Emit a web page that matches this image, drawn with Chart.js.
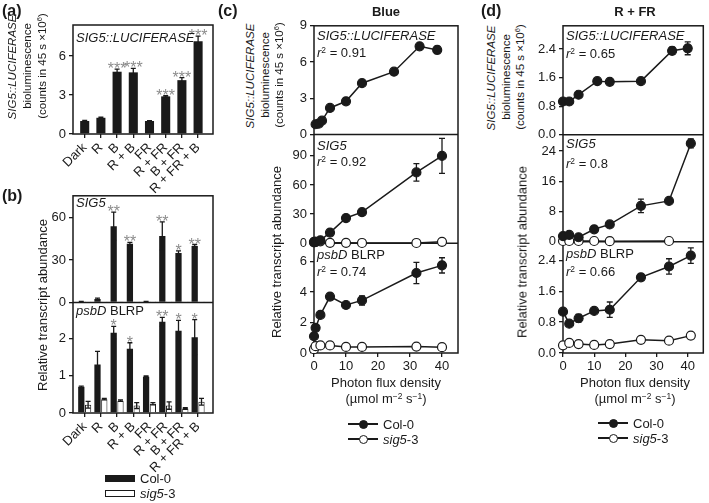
<!DOCTYPE html>
<html>
<head>
<meta charset="utf-8">
<script src="https://cdn.jsdelivr.net/npm/chart.js@4.4.1/dist/chart.umd.min.js"></script>
<style>
  body { margin: 0; width: 709px; height: 503px; position: relative; overflow: hidden; background: #fff;
         font-family: 'Liberation Sans', Arial, sans-serif; color: #1a1a1a; }
  canvas { position: absolute; }
  .t { position: absolute; white-space: nowrap; font-size: 13px; line-height: 13px; }
  .b { font-weight: bold; }
  .yt { font-size: 11.5px; line-height: 12px; }
  .rot { transform: translate(-50%, -50%) rotate(-90deg); }
  .ctr { transform: translateX(-50%); }
  sup { font-size: 0.65em; line-height: 0; vertical-align: 0.5em; }
  .sw { position: absolute; box-sizing: border-box; }
</style>
</head>
<body>
<canvas id="ca" width="220" height="200" style="left:0;top:0"></canvas>
<canvas id="cb" width="220" height="300" style="left:0;top:185px"></canvas>
<canvas id="cc" width="187" height="380" style="left:278px;top:15px"></canvas>
<canvas id="cd" width="182" height="380" style="left:527px;top:15px"></canvas>

<!-- panel letters and headings -->
<div class="t b" style="left:2px;top:3px;font-size:16px;line-height:16px">(a)</div>
<div class="t b" style="left:2px;top:188px;font-size:16px;line-height:16px">(b)</div>
<div class="t b" style="left:218px;top:3px;font-size:16px;line-height:16px">(c)</div>
<div class="t b" style="left:481px;top:3px;font-size:16px;line-height:16px">(d)</div>
<div class="t b ctr" style="left:386px;top:5px">Blue</div>
<div class="t b ctr" style="left:635px;top:5px">R + FR</div>

<!-- axis titles -->
<div class="t yt rot" style="left:12px;top:67px"><i>SIG5::LUCIFERASE</i></div>
<div class="t yt rot" style="left:27px;top:66px">bioluminescence</div>
<div class="t yt rot" style="left:42px;top:66px">(counts in 45 s ×10<sup>6</sup>)</div>
<div class="t rot" style="left:42px;top:305px">Relative transcript abundance</div>

<div class="t yt rot" style="left:250px;top:76px"><i>SIG5::LUCIFERASE</i></div>
<div class="t yt rot" style="left:265px;top:75px">bioluminescence</div>
<div class="t yt rot" style="left:279px;top:75px">(counts in 45 s ×10<sup>6</sup>)</div>
<div class="t rot" style="left:276px;top:252px">Relative transcript abundance</div>

<div class="t yt rot" style="left:491px;top:78px"><i>SIG5::LUCIFERASE</i></div>
<div class="t yt rot" style="left:506px;top:77px">bioluminescence</div>
<div class="t yt rot" style="left:520px;top:77px">(counts in 45 s ×10<sup>6</sup>)</div>
<div class="t rot" style="left:522px;top:252px">Relative transcript abundance</div>

<div class="t ctr" style="left:386px;top:376px">Photon flux density</div>
<div class="t ctr" style="left:386px;top:392px">(µmol m<sup>−2</sup> s<sup>−1</sup>)</div>
<div class="t ctr" style="left:635px;top:376px">Photon flux density</div>
<div class="t ctr" style="left:635px;top:392px">(µmol m<sup>−2</sup> s<sup>−1</sup>)</div>

<!-- labels inside the plots -->
<div class="t" style="left:76px;top:31px"><i>SIG5::LUCIFERASE</i></div>
<div class="t" style="left:76px;top:196px"><i>SIG5</i></div>
<div class="t" style="left:76px;top:304px"><i>psbD</i> BLRP</div>

<div class="t" style="left:317px;top:29px"><i>SIG5::LUCIFERASE</i></div>
<div class="t" style="left:317px;top:46px"><i>r</i><sup>2</sup> = 0.91</div>
<div class="t" style="left:317px;top:139px"><i>SIG5</i></div>
<div class="t" style="left:317px;top:155px"><i>r</i><sup>2</sup> = 0.92</div>
<div class="t" style="left:317px;top:248px"><i>psbD</i> BLRP</div>
<div class="t" style="left:317px;top:265px"><i>r</i><sup>2</sup> = 0.74</div>

<div class="t" style="left:566px;top:29px"><i>SIG5::LUCIFERASE</i></div>
<div class="t" style="left:566px;top:47px"><i>r</i><sup>2</sup> = 0.65</div>
<div class="t" style="left:566px;top:137px"><i>SIG5</i></div>
<div class="t" style="left:566px;top:157px"><i>r</i><sup>2</sup> = 0.8</div>
<div class="t" style="left:566px;top:247px"><i>psbD</i> BLRP</div>
<div class="t" style="left:566px;top:265px"><i>r</i><sup>2</sup> = 0.66</div>

<!-- legends -->
<div class="sw" style="left:105px;top:475px;width:30px;height:7px;background:#1a1a1a"></div>
<div class="t" style="left:140px;top:472px">Col-0</div>
<div class="sw" style="left:105px;top:490px;width:30px;height:7px;border:1px solid #1a1a1a;background:#fff"></div>
<div class="t" style="left:140px;top:487px"><i>sig5</i>-3</div>
<div id="legends"></div>

<script>
// light treatments, panels (a) and (b)
const lightCats = ['Dark', 'R', 'B', 'R + B', 'FR', 'R + FR', 'B + FR', 'R + FR + B'];

const lucBars = [1.0, 1.25, 4.8, 4.75, 1.0, 2.9, 4.15, 7.15];
const lucBarsErr = [0.05, 0.05, 0.2, 0.3, 0.03, 0.06, 0.2, 0.4];
const lucBarsStars = ['', '', '***', '***', '', '***', '***', '***'];
const lucBarTicks = [0, 3, 6];

const sig5BarsCol = [0.5, 2.5, 54, 41.5, 0.5, 47, 35, 40];
const sig5BarsColErr = [0.2, 0.5, 10, 1, 0.2, 10, 1.5, 1];
const sig5BarsMut = [0.2, 0.2, 0.3, 0.2, 0.2, 0.2, 0.2, 0.2];
const sig5BarsStars = ['', '', '**', '**', '', '**', '*', '**'];
const sig5BarTicks = [0, 30, 60];

const psbdBarsCol = [0.7, 1.3, 2.15, 1.72, 0.97, 2.44, 2.2, 2.03];
const psbdBarsColErr = [0.02, 0.35, 0.17, 0.16, 0.02, 0.12, 0.28, 0.47];
const psbdBarsMut = [0.22, 0.37, 0.33, 0.2, 0.25, 0.2, 0.12, 0.3];
const psbdBarsMutErr = [0.09, 0.02, 0.02, 0.08, 0.03, 0.1, 0.02, 0.09];
const psbdBarsStars = ['', '', '*', '*', '', '**', '*', '*'];
const psbdBarTicks = [0, 1, 2];

// photon flux series, panel (c) blue light
const blueLucX = [0.5, 1.5, 2.5, 5, 10, 15, 25, 33, 38.5];
const blueLuc = [0.85, 0.9, 1.15, 2.2, 2.75, 4.25, 5.2, 7.3, 7.0];
const blueLucErr = [0.05, 0.05, 0.05, 0.1, 0.1, 0.1, 0.1, 0.15, 0.3];
const blueX = [0, 0.5, 2, 5, 10, 15, 32, 40];
const blueSig5Col = [1, 1.5, 3, 11, 26, 32, 73, 90];
const blueSig5ColErr = [0.3, 0.3, 0.5, 1, 2, 1.5, 9, 18];
const blueSig5Mut = [1.5, 1.5, 2, 0.5, 0.5, 0.3, 0.3, 1.5];
const bluePsbdCol = [1.1, 1.65, 2.5, 3.7, 3.15, 3.45, 5.25, 5.75];
const bluePsbdColErr = [0.1, 0.15, 0.1, 0.15, 0.15, 0.3, 0.7, 0.5];
const bluePsbdMut = [0.25, 0.45, 0.5, 0.5, 0.4, 0.4, 0.42, 0.38];

// photon flux series, panel (d) red + far red
const rfrLucX = [0, 2, 5, 11, 15, 25, 35, 40];
const rfrLuc = [0.93, 0.93, 1.12, 1.5, 1.48, 1.5, 2.35, 2.42];
const rfrLucErr = [0.03, 0.03, 0.05, 0.04, 0.03, 0.04, 0.1, 0.18];
const rfrX = [0, 2, 5, 10, 15, 25, 34, 41];
const rfrSig5Col = [1.5, 1.8, 1.2, 3.3, 4.6, 9.5, 10.8, 26];
const rfrSig5ColErr = [0.3, 0.5, 0.3, 0.4, 0.4, 1.8, 0.7, 1.2];
const rfrSig5Mut = [0.2, 0.2, 0.2, 0.2, 0.15, null, 0.2, null];
const rfrPsbdCol = [1.07, 0.76, 0.9, 1.09, 1.12, 1.96, 2.24, 2.52];
const rfrPsbdColErr = [0.03, 0.05, 0.1, 0.04, 0.2, 0.07, 0.2, 0.2];
const rfrPsbdMut = [0.2, 0.26, 0.23, 0.21, 0.23, 0.34, 0.32, 0.45];

const fluxTicks = [0, 10, 20, 30, 40];
const blueLucTicks = [0, 3, 6, 9];
const blueSig5Ticks = [0, 30, 60, 90];
const bluePsbdTicks = [0, 2, 4, 6];
const rfrLucTicks = [0, 0.8, 1.6, 2.4];
const rfrSig5Ticks = [0, 8, 16, 24];
const rfrPsbdTicks = [0, 0.8, 1.6, 2.4];

const ink = '#1a1a1a';

Chart.defaults.font.family = "'Liberation Sans', Arial, sans-serif";
Chart.defaults.font.size = 13;
Chart.defaults.color = ink;
Chart.defaults.animation = false;
Chart.defaults.plugins.legend.display = false;
Chart.defaults.plugins.tooltip.enabled = false;

// box around the plot area plus the rule between stacked rows
const framePlugin = {
  id: 'frame',
  beforeDatasetsDraw(chart) {
    const { ctx, chartArea: a } = chart;
    ctx.save();
    ctx.strokeStyle = ink;
    ctx.lineWidth = 1.5;
    ctx.strokeRect(a.left, a.top, a.right - a.left, a.bottom - a.top);
    Object.values(chart.scales).forEach(s => {
      if (s.axis === 'y' && s.top > a.top + 1) {
        ctx.beginPath();
        ctx.moveTo(a.left, s.top);
        ctx.lineTo(a.right, s.top);
        ctx.stroke();
      }
    });
    ctx.restore();
  }
};

function drawErrors(chart) {
  const ctx = chart.ctx;
  ctx.save();
  ctx.strokeStyle = ink;
  ctx.lineWidth = 1.3;
  chart.data.datasets.forEach((ds, i) => {
    if (!ds.errors) return;
    const meta = chart.getDatasetMeta(i);
    const ys = chart.scales[meta.yAxisID];
    const cap = chart.config.type === 'bar' ? 2.5 : 3;
    meta.data.forEach((el, j) => {
      const v = ds.data[j].y, e = ds.errors[j];
      if (v == null || !e) return;
      const hi = ys.getPixelForValue(v + e), lo = ys.getPixelForValue(v - e);
      ctx.beginPath();
      ctx.moveTo(el.x, lo); ctx.lineTo(el.x, hi);
      ctx.moveTo(el.x - cap, hi); ctx.lineTo(el.x + cap, hi);
      ctx.moveTo(el.x - cap, lo); ctx.lineTo(el.x + cap, lo);
      ctx.stroke();
    });
  });
  ctx.restore();
}

function drawStars(chart) {
  const ctx = chart.ctx;
  ctx.save();
  ctx.fillStyle = '#8c8c8c';
  ctx.font = "16px 'Liberation Sans', Arial, sans-serif";
  ctx.textAlign = 'center';
  ctx.textBaseline = 'alphabetic';
  chart.data.datasets.forEach((ds, i) => {
    if (!ds.stars) return;
    const meta = chart.getDatasetMeta(i);
    const ys = chart.scales[meta.yAxisID];
    meta.data.forEach((el, j) => {
      if (!ds.stars[j]) return;
      const top = ys.getPixelForValue(ds.data[j].y + ((ds.errors && ds.errors[j]) || 0));
      ctx.fillText(ds.stars[j], el.x, top + 5);
    });
  });
  ctx.restore();
}

const errorPlugin = {
  id: 'errors',
  beforeDatasetsDraw(chart) { if (chart.config.type === 'line') drawErrors(chart); },
  afterDatasetsDraw(chart) {
    if (chart.config.type === 'bar') drawErrors(chart);
    drawStars(chart);
  }
};

Chart.register(framePlugin, errorPlugin);

function yAxis(range, ticks, weight, width, fmt) {
  return {
    type: 'linear', position: 'left', stack: 'rows', stackWeight: weight, stacked: false,
    min: range[0], max: range[1],
    afterBuildTicks: s => { s.ticks = ticks.map(v => ({ value: v })); },
    afterFit: s => { s.width = width; },
    border: { display: false },
    grid: { drawOnChartArea: false, tickLength: 4, color: ink, lineWidth: 1.3 },
    ticks: { padding: 3, color: ink, callback: fmt || (v => String(v)) }
  };
}

function xAxis(range, ticks, height, labelFn, rotate) {
  return {
    type: 'linear', position: 'bottom', min: range[0], max: range[1], offset: false,
    afterBuildTicks: s => { s.ticks = ticks.map(v => ({ value: v })); },
    afterFit: s => { s.height = height; },
    border: { display: false },
    grid: { offset: false, drawOnChartArea: false, tickLength: 4, color: ink, lineWidth: 1.3 },
    ticks: { autoSkip: false, padding: 2, color: ink, minRotation: rotate, maxRotation: rotate, callback: labelFn }
  };
}

function barDs(vals, errs, stars, axis, filled, stack, cat, bar) {
  return {
    data: vals.map((y, i) => ({ x: i, y })),
    errors: errs, stars: stars, yAxisID: axis, stack: stack,
    backgroundColor: filled ? ink : '#fff', borderColor: ink, borderWidth: filled ? 0 : 1,
    categoryPercentage: cat, barPercentage: bar
  };
}

function lineDs(xs, ys, errs, axis, filled) {
  return {
    data: xs.map((x, i) => ({ x, y: ys[i] })),
    errors: errs, yAxisID: axis,
    borderColor: ink, borderWidth: 1.5, tension: 0, spanGaps: true, clip: false,
    pointRadius: 4.5, pointBorderWidth: 1.2, pointBorderColor: ink,
    pointBackgroundColor: filled ? ink : '#fff'
  };
}

const catIdx = lightCats.map((c, i) => i);
const catLabel = v => lightCats[v];
const oneDec = v => v.toFixed(1);

// (a) luciferase bars
new Chart(document.getElementById('ca'), {
  type: 'bar',
  data: { datasets: [barDs(lucBars, lucBarsErr, lucBarsStars, 'y', true, undefined, 1, 0.56)] },
  options: {
    responsive: false,
    layout: { padding: { top: 25, right: 7, left: 0, bottom: 0 } },
    scales: {
      x: xAxis([-0.722, 7.92], catIdx, 66, catLabel, 45),
      y: yAxis([0, 8.4], lucBarTicks, 1, 73)
    }
  }
});

// (b) transcript bars, two stacked rows
new Chart(document.getElementById('cb'), {
  type: 'bar',
  data: {
    datasets: [
      barDs(sig5BarsCol, sig5BarsColErr, sig5BarsStars, 'ySig', true, 'col', 0.84, 0.92),
      barDs(sig5BarsMut, null, null, 'ySig', false, 'mut', 0.84, 0.92),
      barDs(psbdBarsCol, psbdBarsColErr, psbdBarsStars, 'yPsb', true, 'col', 0.84, 0.92),
      barDs(psbdBarsMut, psbdBarsMutErr, null, 'yPsb', false, 'mut', 0.84, 0.92)
    ]
  },
  options: {
    responsive: false,
    layout: { padding: { top: 10, right: 7, left: 0, bottom: 0 } },
    scales: {
      x: xAxis([-0.722, 7.92], catIdx, 72, catLabel, 45),
      yPsb: yAxis([0, 2.96], psbdBarTicks, 111, 73),
      ySig: yAxis([0, 75.5], sig5BarTicks, 107, 73)
    }
  }
});

// (c) blue light response, three stacked rows
new Chart(document.getElementById('cc'), {
  type: 'line',
  data: {
    datasets: [
      lineDs(blueLucX, blueLuc, blueLucErr, 'yLuc', true),
      lineDs(blueX, blueSig5Col, blueSig5ColErr, 'ySig', true),
      lineDs(blueX, blueSig5Mut, null, 'ySig', false),
      lineDs(blueX, bluePsbdCol, bluePsbdColErr, 'yPsb', true),
      lineDs(blueX, bluePsbdMut, null, 'yPsb', false)
    ]
  },
  options: {
    responsive: false,
    layout: { padding: { top: 10, right: 7, left: 0, bottom: 0 } },
    scales: {
      x: xAxis([0, 45], fluxTicks, 42, v => String(v), 0),
      yPsb: yAxis([0, 7.2], bluePsbdTicks, 110, 36),
      ySig: yAxis([0, 112], blueSig5Ticks, 109, 36),
      yLuc: yAxis([0, 9], blueLucTicks, 109, 36)
    }
  }
});

// (d) red + far red response, three stacked rows
new Chart(document.getElementById('cd'), {
  type: 'line',
  data: {
    datasets: [
      lineDs(rfrLucX, rfrLuc, rfrLucErr, 'yLuc', true),
      lineDs(rfrX, rfrSig5Col, rfrSig5ColErr, 'ySig', true),
      lineDs(rfrX, rfrSig5Mut, null, 'ySig', false),
      lineDs(rfrX, rfrPsbdCol, rfrPsbdColErr, 'yPsb', true),
      lineDs(rfrX, rfrPsbdMut, null, 'yPsb', false)
    ]
  },
  options: {
    responsive: false,
    layout: { padding: { top: 10, right: 2, left: 0, bottom: 0 } },
    scales: {
      x: xAxis([0, 45], fluxTicks, 42, v => String(v), 0),
      yPsb: yAxis([0, 2.88], rfrPsbdTicks, 111.6, 36, oneDec),
      ySig: yAxis([0, 28.3], rfrSig5Ticks, 107.4, 36),
      yLuc: yAxis([0, 3.05], rfrLucTicks, 109.3, 36, oneDec)
    }
  }
});

// line legends for (c) and (d)
function legendRow(x0, y, filled, html) {
  const box = document.getElementById('legends');
  box.insertAdjacentHTML('beforeend',
    `<div class="sw" style="left:${x0}px;top:${y - 0.75}px;width:30px;height:1.5px;background:${ink}"></div>` +
    `<div class="sw" style="left:${x0 + 10.5}px;top:${y - 4.5}px;width:9px;height:9px;border-radius:50%;` +
    `border:1.2px solid ${ink};background:${filled ? ink : '#fff'}"></div>` +
    `<div class="t" style="left:${x0 + 35}px;top:${y - 6.5}px">${html}</div>`);
}
legendRow(348, 424, true, 'Col-0');
legendRow(348, 439, false, '<i>sig5</i>-3');
legendRow(598, 423, true, 'Col-0');
legendRow(598, 438, false, '<i>sig5</i>-3');
</script>
</body>
</html>
